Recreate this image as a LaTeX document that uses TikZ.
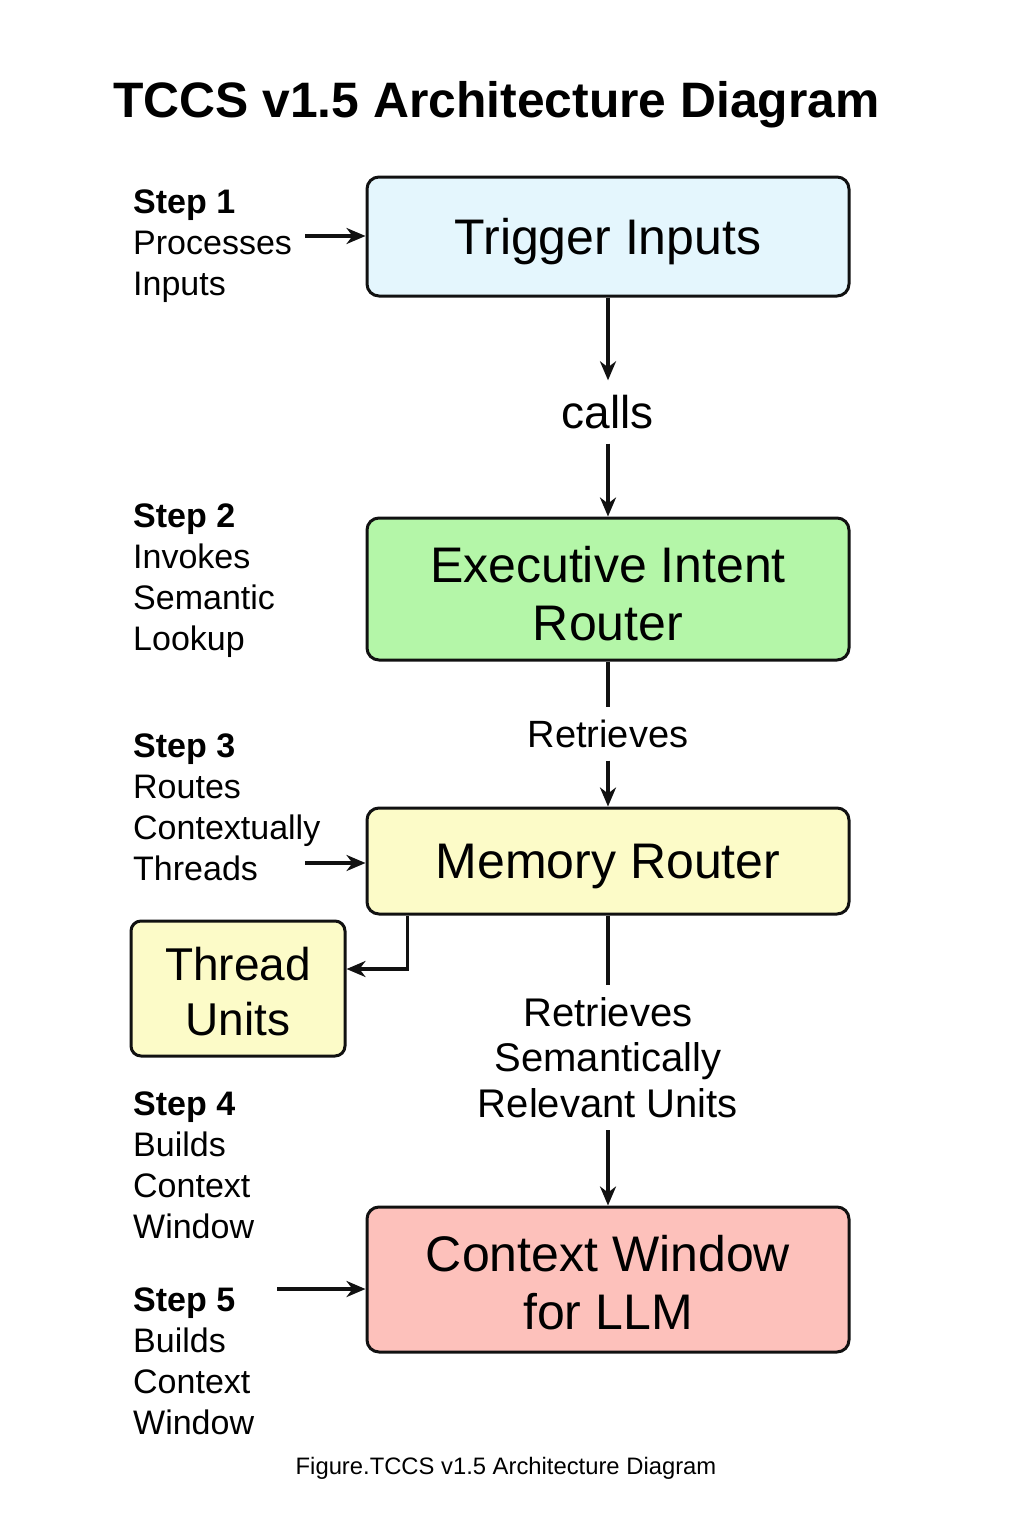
\documentclass[tikz,border=0pt]{standalone}
\usepackage{fontspec}
\setmainfont{Liberation Sans}
\usetikzlibrary{arrows.meta,calc}
\definecolor{linec}{HTML}{111111}
\definecolor{bluefill}{HTML}{E4F6FD}
\definecolor{greenfill}{HTML}{B4F6A8}
\definecolor{yellowfill}{HTML}{FCFBC8}
\definecolor{redfill}{HTML}{FDC1BB}
\begin{document}
\begin{tikzpicture}[x=1pt,y=-1pt,
  box/.style={draw=linec, line width=3pt, rounded corners=12pt, inner sep=0pt,
    minimum width=482pt},
  boxtext/.style={align=center, inner sep=0pt, font=\fontsize{50}{58}\selectfont},
  arr/.style={-{Stealth[length=19pt,width=16pt,inset=6pt]}, line width=3.2pt, draw=linec},
  plain/.style={line width=3.2pt, draw=linec},
  steptext/.style={anchor=north west, align=left, font=\fontsize{34}{41}\selectfont, inner sep=0pt},
  lbl/.style={align=center, inner sep=0pt}]
\useasboundingbox[fill=white] (0,0) rectangle (1024,1536);

% title
\node[anchor=base, inner sep=0pt, font=\fontsize{49.8}{55}\selectfont\bfseries] (title) at (496.5,118) {TCCS v1.5 Architecture Diagram};

% main boxes
\node[box, fill=bluefill, minimum height=119pt] (trig) at (608,236.5) {};
\node[boxtext] (trigt) at (608,241.5) {Trigger Inputs};
\node[lbl, font=\fontsize{46}{52}\selectfont, minimum height=63pt] (calls) at (608,412) {calls};
\node[box, fill=greenfill, minimum height=142pt] (exec) at (608,589) {};
\node[boxtext] (exect) at (608,594) {Executive Intent\\Router};
\node[lbl, font=\fontsize{38}{44}\selectfont, minimum height=53pt] (ret1) at (608,734) {Retrieves};
\node[box, fill=yellowfill, minimum height=106pt] (mem) at (608,861) {};
\node[boxtext] (memt) at (608,866) {Memory Router};
\node[box, fill=yellowfill, minimum width=214pt, minimum height=135pt, rounded corners=10pt] (thr) at (238,988.5) {};
\node[boxtext, font=\fontsize{46}{55}\selectfont] (thrt) at (238,991.5) {Thread\\Units};
\node[lbl, font=\fontsize{40}{45.5}\selectfont, minimum height=145pt] (ret2) at (608,1057.5) {Retrieves\\Semantically\\Relevant Units};
\node[box, fill=redfill, minimum height=145pt] (ctx) at (608,1279.5) {};
\node[boxtext] (ctxt) at (608,1282.5) {Context Window\\for LLM};

% step texts
\node[steptext] (s1) at (133,190) {\textbf{Step 1}\\Processes\\Inputs};
\node[steptext] (s2) at (133,504) {\textbf{Step 2}\\Invokes\\Semantic\\Lookup};
\node[steptext] (s3) at (133,734) {\textbf{Step 3}\\Routes\\Contextually\\Threads};
\node[steptext] (s4) at (133,1092) {\textbf{Step 4}\\Builds\\Context\\Window};
\node[steptext] (s5) at (133,1288) {\textbf{Step 5}\\Builds\\Context\\Window};

% caption
\node[anchor=base, inner sep=0pt, font=\fontsize{23.8}{28}\selectfont] (cap) at (506,1474) {Figure.TCCS v1.5 Architecture Diagram};

% connectors
\draw[arr] (trig) -- (calls);
\draw[arr] (calls) -- (exec);
\draw[plain] (exec) -- (ret1);
\draw[arr] (ret1) -- (mem);
\draw[plain] (mem) -- (ret2);
\draw[arr] (ret2) -- (ctx);
\draw[arr] ([xshift=42pt]mem.south west) |- ([yshift=19.5pt]thr.east);

\coordinate (a1) at (305,236);
\draw[arr] (a1) -- (a1 -| trig.west);
\coordinate (a3) at (305,863);
\draw[arr] (a3) -- (a3 -| mem.west);
\coordinate (a5) at (277,1289);
\draw[arr] (a5) -- (a5 -| ctx.west);
\end{tikzpicture}
\end{document}
